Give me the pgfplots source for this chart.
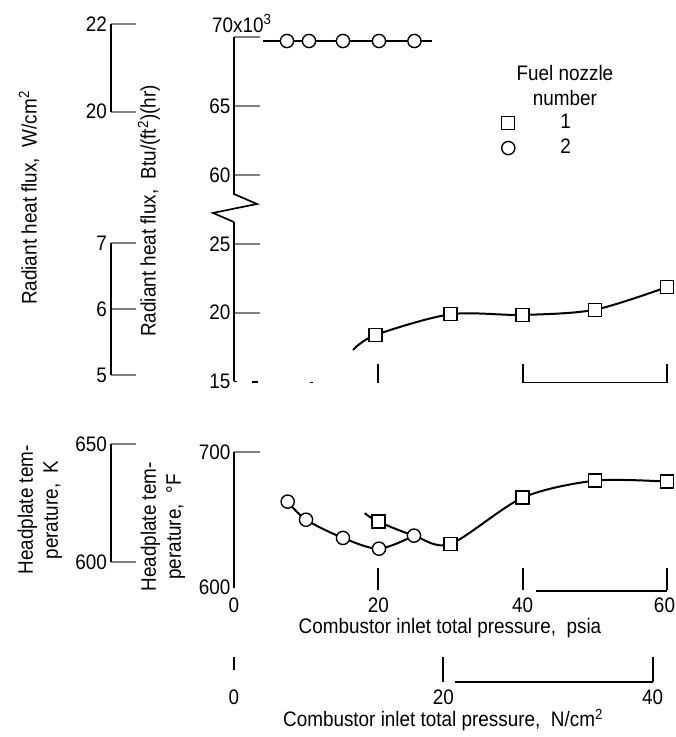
\documentclass[border=0pt]{standalone}
\usepackage{fontspec}
\setmainfont{Liberation Sans}[FakeStretch=0.9]
\usepackage{pgfplots}
\pgfplotsset{compat=1.18}

\newcommand{\lbl}{\fontsize{21}{25}\selectfont}

\tikzset{axln/.style={line width=1.7pt}}
\pgfplotsset{
  every axis/.append style={/pgf/number format/assume math mode=true,
    tick label style={font=\lbl}},
  panel/.style={
    scale only axis, width=433pt, xmin=0, xmax=60,
    enlargelimits=false, clip=false,
    axis y line*=left,
    y axis line style={line width=1.7pt},
    tick align=inside, major tick length=26pt,
    ytick style={line width=1.7pt},
    yticklabel style={inner sep=0pt, xshift=-3.5pt},
    every axis plot/.append style={line width=2pt, black},
  },
  aux/.style={
    scale only axis, width=25pt, xmin=0, xmax=1,
    enlargelimits=false, clip=false,
    axis x line=none, axis y line*=left,
    y axis line style={line width=1.7pt},
    tick align=inside, major tick length=25.5pt,
    ytick style={line width=1.7pt},
    yticklabel style={inner sep=0pt, xshift=-3.5pt},
  },
  sq/.style={mark=square*, mark size=6.5pt,
    mark options={fill=white, draw=black, line width=1.4pt}},
  ci/.style={mark=*, mark size=6.6pt,
    mark options={fill=white, draw=black, line width=1.4pt}},
  legmark/.style={legend image code/.code={%
      \draw[##1] plot coordinates {(0pt,0pt)};
      \path[draw=none, fill=none] (-8pt,-12.5pt) rectangle (52pt,12.5pt);}},
}

\begin{document}
\lbl
\begin{tikzpicture}
\path[use as bounding box] (0,0) rectangle (676pt,737pt);

% ---------- radiant heat flux, lower segment (15-25 x 10^3 Btu) ----------
\begin{axis}[panel, axis x line=none, at={(234pt,355.5pt)}, anchor=south west,
  height=137.5pt, ymin=15, ymax=25, ytick={20,25}]
  \addplot[smooth] coordinates {(16.5,17.3) (19.6,18.38) (30,19.89) (40,19.84) (50,20.22) (60,21.87)};
  \addplot[only marks, sq] coordinates {(19.6,18.38) (30,19.89) (40,19.84) (50,20.22) (60,21.87)};
  \draw[axln] (axis cs:0,25) -- (axis cs:0,26.6);
  \node[anchor=east, inner sep=0pt, xshift=-3.5pt] at (axis cs:0,15) {15};
  \draw[line width=1.4pt] (axis cs:0,15) -- ++(3pt,0pt);
  \draw[line width=1.4pt] (axis cs:2.5,14.95) -- (axis cs:3.3,14.95);
  \draw[line width=1.0pt] (axis cs:10.5,14.95) -- (axis cs:11.0,14.95);
  \draw[line width=1.4pt] (axis cs:40,14.92) -- (axis cs:60,14.92);
  \draw[line width=1.7pt] (axis cs:20,14.92) -- ++(0pt,19pt);
  \draw[line width=1.7pt] (axis cs:40,14.92) -- ++(0pt,19pt);
  \draw[line width=1.7pt] (axis cs:60,14.92) -- ++(0pt,19pt);
\end{axis}

% ---------- radiant heat flux, upper segment (60-70 x 10^3 Btu) ----------
\begin{axis}[panel, axis x line=none, at={(234pt,562pt)}, anchor=south west,
  height=138pt, ymin=60, ymax=70, ytick={60,65,70}, yticklabels={60,65,{}},
  legend entries={1,2},
  legend style={at={(axis cs:36.9,64.67)}, anchor=north west, draw=none, fill=none,
    inner sep=0pt, outer sep=0pt, row sep=0pt, column sep=0pt,
    nodes={inner sep=0pt}, font=\lbl},
  ]
  \addlegendimage{only marks, sq, legmark}
  \addlegendimage{only marks, ci, legmark}
  \addplot[no marks] coordinates {(4.0,69.71) (27.4,69.71)};
  \addplot[only marks, ci] coordinates {(7.34,69.71) (10.39,69.71) (15.1,69.71) (20.09,69.71) (25.0,69.71)};
  \draw[axln] (axis cs:0,60) -- (axis cs:0,58.62) -- (axis cs:3.19,57.90)
     -- (axis cs:-2.91,57.25) -- (axis cs:0,56.59);
  \node[anchor=base west, inner sep=0pt] at (axis cs:-3.05,70.36) {70x10\textsuperscript{3}};
  \node[align=center, inner sep=0pt] at (axis cs:45.86,66.52) {Fuel nozzle\\number};
\end{axis}

% ---------- headplate temperature ----------
\begin{axis}[panel, at={(234pt,149pt)}, anchor=south west, height=136pt,
  ymin=600, ymax=700, ytick={700},
  axis x line*=bottom, x axis line style={draw=none}, xtick={0,20,40,60},
  xticklabels={0,20,40,{\kern-5pt 60}},
  xtick style={draw=none},
  xticklabel style={inner sep=0pt, anchor=north, yshift=-10pt}]
  \addplot[smooth] coordinates {(7.44,663.5) (9.98,650.2) (15.1,636.8) (20.09,628.9) (24.94,638.5)};
  \addplot[smooth] coordinates {(18.1,655) (20,648.8) (24.94,638.5) (30,632.4) (40,666.4) (50,678.9) (60,678.2)};
  \addplot[only marks, ci] coordinates {(7.44,663.5) (9.98,650.2) (15.1,636.8) (20.09,628.9) (24.94,638.5)};
  \addplot[only marks, sq] coordinates {(20,648.8) (30,632.4) (40,666.4) (50,678.9) (60,678.2)};
  \node[anchor=east, inner sep=0pt, xshift=-3.5pt, yshift=1pt] at (axis cs:0,600) {600};
  \draw[line width=1.4pt] (axis cs:41.8,597.8) -- (axis cs:60,597.8);
  \draw[line width=1.7pt] (axis cs:20,598.5) -- ++(0pt,22pt);
  \draw[line width=1.7pt] (axis cs:40,598.5) -- ++(0pt,22pt);
  \draw[line width=1.7pt] (axis cs:60,598.5) -- ++(0pt,22pt);
  \node at (axis cs:29.93,570.6) {Combustor inlet total pressure,\ \ psia};
\end{axis}

% ---------- pressure in N/cm^2 ----------
\begin{axis}[scale only axis, width=433pt, height=25pt, at={(234pt,55pt)}, anchor=south west,
  xmin=0, xmax=41.3685, ymin=0, ymax=25, enlargelimits=false, clip=false,
  axis y line=none, axis x line*=bottom, x axis line style={draw=none},
  xtick style={draw=none}, xtick={0,20,40},
  xticklabel style={inner sep=0pt, anchor=north, yshift=-7.5pt}]
  \draw[line width=1.7pt] (axis cs:0,12) -- (axis cs:0,25);
  \draw[line width=1.7pt] (axis cs:20,0) -- (axis cs:20,25);
  \draw[line width=1.7pt] (axis cs:40,0) -- (axis cs:40,25);
  \draw[line width=1.4pt] (axis cs:21.1,0) -- (axis cs:40,0);
  \node at (axis cs:19.97,-38) {Combustor inlet total pressure,\ \ N/cm\textsuperscript{2}};
\end{axis}

% ---------- auxiliary SI scales ----------
\begin{axis}[aux, at={(110.7pt,625.3pt)}, anchor=south west, height=87.7pt,
  ymin=20, ymax=22, ytick={20,22}]
\end{axis}
\begin{axis}[aux, at={(110.7pt,362pt)}, anchor=south west, height=132pt,
  ymin=5, ymax=7, ytick={5,6,7}]
\end{axis}
\begin{axis}[aux, at={(110.7pt,175pt)}, anchor=south west, height=118pt,
  ymin=600, ymax=650, ytick={600,650}]
\end{axis}

% ---------- axis titles ----------
\begin{scope}[x=1pt, y=-1pt, yshift=737pt]
  \node[rotate=90] at (29,198) {Radiant heat flux,\ \ W/cm\textsuperscript{2}};
  \node[rotate=90] at (149,211) {Radiant heat flux,\ \ Btu/(ft\textsuperscript{2})(hr)};
  \node[rotate=90, align=center] at (40,510) {Headplate tem-\\perature,\ \ K};
  \node[rotate=90, align=center] at (163,527) {Headplate tem-\\perature,\ \ °F};
\end{scope}
\end{tikzpicture}
\end{document}
